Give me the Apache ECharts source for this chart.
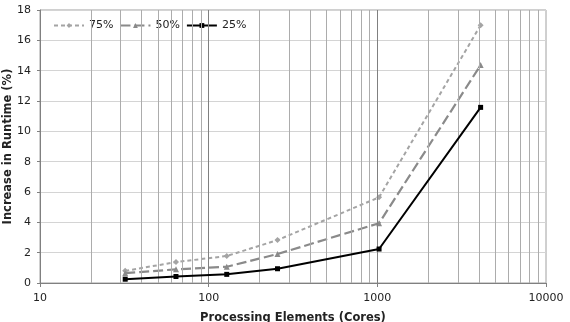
<!DOCTYPE html>
<html>
<head>
<meta charset="utf-8">
<script src="https://cdn.jsdelivr.net/npm/echarts@6/dist/echarts.min.js"></script>
<style>
html, body { margin: 0; padding: 0; background: #fff; }
#chart { width: 570px; height: 322px; }
</style>
</head>
<body>
<div id="chart"></div>
<script>
// data
var cores = [32, 64, 128, 256, 1024, 4096];
var p75 = [0.8, 1.38, 1.78, 2.83, 5.65, 17.0];
var p50 = [0.65, 0.9, 1.07, 1.91, 3.94, 14.37];
var p25 = [0.25, 0.43, 0.57, 0.94, 2.24, 11.58];
var minorGrid = [20, 30, 40, 50, 60, 70, 80, 90, 200, 300, 400, 500, 600, 700, 800, 900,
    2000, 3000, 4000, 5000, 6000, 7000, 8000, 9000];
var majorGrid = [100, 1000];

function pairs(ys) {
    return cores.map(function (c, i) { return [c, ys[i]]; });
}

var font = 'DejaVu Sans, Verdana, sans-serif';
var myChart = echarts.init(document.getElementById('chart'), null, { renderer: 'canvas' });

var gridLines = minorGrid.map(function (v) {
    return { xAxis: v, lineStyle: { color: '#acacac', width: 1, type: 'solid' } };
}).concat(majorGrid.map(function (v) {
    return { xAxis: v, lineStyle: { color: '#808080', width: 1, type: 'solid' } };
}));

myChart.setOption({
    animation: false,
    grid: {
        left: 40, right: 24, top: 10, bottom: 39,
        containLabel: false, outerBoundsMode: 'none',
        show: true, borderColor: '#a0a0a0', borderWidth: 1
    },
    legend: {
        left: 50, top: 18,
        padding: [2, 3],
        backgroundColor: '#fff',
        itemWidth: 30, itemHeight: 6, itemGap: 6,
        textStyle: { fontFamily: font, fontSize: 11, color: '#222' },
        data: ['75%', '50%', '25%']
    },
    xAxis: {
        type: 'log', logBase: 10, min: 10, max: 10000,
        axisLine: { show: true, lineStyle: { color: '#808080' } },
        axisTick: { show: true, length: 4, lineStyle: { color: '#808080' } },
        axisLabel: {
            fontFamily: font, fontSize: 11, color: '#222', margin: 10,
            formatter: function (v) { return String(Math.round(v)); }
        },
        splitLine: { show: false },
        name: 'Processing Elements (Cores)', nameLocation: 'middle', nameGap: 29,
        nameMoveOverlap: false,
        nameTextStyle: { fontFamily: font, fontSize: 11.5, fontWeight: 'bold', color: '#222' }
    },
    yAxis: {
        type: 'value', min: 0, max: 18, interval: 2,
        axisLine: { show: true, lineStyle: { color: '#808080' } },
        axisTick: { show: true, length: 3, lineStyle: { color: '#808080' } },
        axisLabel: { fontFamily: font, fontSize: 11, color: '#222', margin: 9 },
        splitLine: { show: true, lineStyle: { color: '#d4d4d4', width: 1 } },
        name: 'Increase in Runtime (%)', nameLocation: 'middle', nameGap: 26,
        nameMoveOverlap: false,
        nameTextStyle: { fontFamily: font, fontSize: 11.5, fontWeight: 'bold', color: '#222' }
    },
    series: [
        {
            name: 'grid', type: 'line', data: [], silent: true,
            markLine: { symbol: 'none', silent: true, label: { show: false }, data: gridLines, animation: false }
        },
        {
            name: '75%', type: 'line', data: pairs(p75),
            symbol: 'diamond', symbolSize: 6,
            itemStyle: { color: '#a4a4a4' },
            lineStyle: { color: '#a4a4a4', width: 2, type: [4, 3] },
            z: 3
        },
        {
            name: '50%', type: 'line', data: pairs(p50),
            symbol: 'triangle', symbolSize: 6,
            itemStyle: { color: '#8a8a8a' },
            lineStyle: { color: '#8a8a8a', width: 2.2, type: [10, 4] },
            z: 4
        },
        {
            name: '25%', type: 'line', data: pairs(p25),
            symbol: 'rect', symbolSize: 5,
            itemStyle: { color: '#000' },
            lineStyle: { color: '#000', width: 2 },
            z: 5
        }
    ]
});
</script>
</body>
</html>
